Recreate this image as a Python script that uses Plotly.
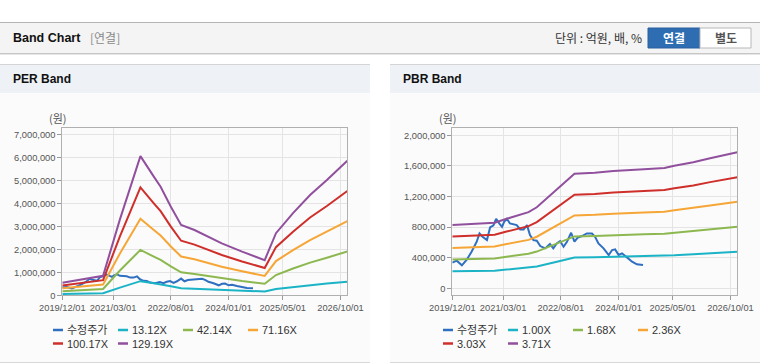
import plotly.graph_objects as go

# ---------------- data ----------------
price_dates = ["2019-12-01","2020-01-10","2020-02-25","2020-04-07","2020-05-22","2020-07-07","2020-08-01","2020-08-28",
               "2020-10-07","2020-11-04","2020-12-04","2020-12-28","2021-01-25","2021-02-19","2021-03-10","2021-04-04",
               "2021-05-01","2021-06-01","2021-07-01","2021-08-01","2021-09-01","2021-10-01","2021-10-28","2021-11-28",
               "2021-12-28","2022-01-28","2022-03-13","2022-04-25","2022-05-25","2022-06-25","2022-07-25","2022-08-25",
               "2022-09-25","2022-11-01","2022-12-01","2023-01-01","2023-02-07","2023-03-22","2023-05-07","2023-06-04",
               "2023-07-04","2023-08-19","2023-10-04","2023-11-04","2023-12-01","2024-01-01","2024-02-01","2024-03-16",
               "2024-05-01","2024-06-13","2024-08-07"]
price = [335000,361000,300000,370000,478000,609000,717000,674000,
         630000,796000,822000,909000,848000,804000,870000,909000,
         848000,839000,826000,770000,770000,826000,696000,630000,
         622000,552000,522000,578000,522000,587000,617000,543000,
         609000,726000,609000,665000,683000,717000,717000,674000,
         587000,522000,435000,500000,509000,435000,457000,404000,
         348000,313000,304000]

per_dates = ["2019-12-01","2020-06-01","2020-12-01","2021-05-01","2021-11-01","2022-03-01","2022-05-01","2022-08-01",
             "2022-11-01","2023-03-01","2023-06-01","2023-11-01","2024-05-01","2024-11-20","2025-03-01","2025-08-01",
             "2026-01-01","2026-06-01","2026-12-01"]
per_13 = [56000,71000,86000,335000,615000,524000,480000,391000,311000,289000,266000,230000,193000,165000,274000,363000,443000,509000,594000]
per_42 = [179000,228000,277000,1076000,1974000,1683000,1540000,1256000,998000,926000,855000,737000,620000,499000,881000,1165000,1422000,1634000,1908000]
per_71 = [303000,386000,468000,1818000,3332000,2842000,2600000,2121000,1685000,1564000,1443000,1245000,1047000,843000,1487000,1966000,2401000,2759000,3222000]
per_100 = [426000,543000,659000,2559000,4691000,4001000,3660000,2985000,2373000,2202000,2032000,1752000,1473000,1186000,2094000,2768000,3381000,3885000,4536000]
per_129 = [550000,700000,850000,3300000,6050000,5160000,4720000,3850000,3060000,2840000,2620000,2260000,1900000,1530000,2700000,3570000,4360000,5010000,5850000]

pbr_dates = ["2019-12-01","2020-06-01","2020-12-15","2021-04-01","2021-10-15","2021-12-28","2022-07-15","2022-12-01",
             "2023-06-01","2023-11-15","2024-08-15","2025-02-15","2025-05-15","2025-11-01","2026-04-01","2026-12-01"]
pbr_100 = [223000,226000,231000,245000,268000,285000,354000,403000,407000,413000,419000,424000,432000,444000,458000,479000]
pbr_168 = [375000,380000,389000,412000,451000,480000,595000,678000,683000,695000,705000,712000,726000,746000,769000,805000]
pbr_236 = [527000,534000,546000,578000,633000,674000,836000,952000,960000,976000,990000,1001000,1020000,1048000,1081000,1131000]
pbr_303 = [676000,686000,701000,742000,813000,865000,1074000,1223000,1232000,1253000,1271000,1285000,1309000,1345000,1388000,1452000]
pbr_371 = [828000,840000,858000,909000,995000,1059000,1315000,1497000,1509000,1534000,1556000,1573000,1603000,1647000,1699000,1778000]

per_names = ["수정주가","13.12X","42.14X","71.16X","100.17X","129.19X"]
pbr_names = ["수정주가","1.00X","1.68X","2.36X","3.03X","3.71X"]
colors = ["#2f6fc1","#1bb3c6","#8cb84f","#f6a636","#cf2f2b","#91509d"]

x_tickvals = ["2019-12-01","2021-03-01","2022-08-01","2024-01-01","2025-05-01","2026-10-01"]
x_ticktext = ["2019/12/01","2021/03/01","2022/08/01","2024/01/01","2025/05/01","2026/10/01"]

# ---------------- figure ----------------
W, H = 760, 364
def X(p): return p / W
def Y(p): return 1 - p / H

fig = go.Figure()

per_series = [(price_dates, price), (per_dates, per_13), (per_dates, per_42),
              (per_dates, per_71), (per_dates, per_100), (per_dates, per_129)]
pbr_series = [(price_dates, price), (pbr_dates, pbr_100), (pbr_dates, pbr_168),
              (pbr_dates, pbr_236), (pbr_dates, pbr_303), (pbr_dates, pbr_371)]

for (xs, ys), name, c in zip(per_series, per_names, colors):
    fig.add_trace(go.Scatter(x=xs, y=ys, name=name, mode="lines", line=dict(color=c, width=2),
                             xaxis="x", yaxis="y", showlegend=False))
for (xs, ys), name, c in zip(pbr_series, pbr_names, colors):
    fig.add_trace(go.Scatter(x=xs, y=ys, name=name, mode="lines", line=dict(color=c, width=2),
                             xaxis="x2", yaxis="y2", showlegend=False))

tickfont = dict(family="Liberation Sans, Arial, sans-serif", size=9.3, color="#555555")
xcommon = dict(type="date", range=["2019-12-01", "2026-12-01"], tickvals=x_tickvals, ticktext=x_ticktext,
               tickangle=0, automargin=False, showgrid=True, gridcolor="#e4e4e4", gridwidth=1,
               showline=True, linecolor="#b0b0b0", linewidth=1, mirror=True, ticks="outside", ticklen=4,
               tickcolor="#999999", tickfont=tickfont, zeroline=False, fixedrange=True)
ycommon = dict(automargin=False, showgrid=True, gridcolor="#e4e4e4", gridwidth=1, showline=True,
               linecolor="#b0b0b0", linewidth=1, mirror=True, ticks="outside", ticklen=4, tickcolor="#999999",
               tickfont=tickfont, tickformat=",d", zeroline=False, fixedrange=True)

ydom = [Y(295.3), Y(128.3)]
fig.update_layout(
    width=W, height=H, autosize=False,
    margin=dict(l=0, r=0, t=0, b=0, pad=0, autoexpand=False),
    paper_bgcolor="#ffffff", plot_bgcolor="#ffffff",
    xaxis=dict(domain=[X(62.3), X(347.3)], anchor="y", **xcommon),
    yaxis=dict(domain=ydom, anchor="x", range=[0, 7261000], tick0=0, dtick=1000000, **ycommon),
    xaxis2=dict(domain=[X(452.3), X(737.3)], anchor="y2", **xcommon),
    yaxis2=dict(domain=ydom, anchor="x2", range=[-91500, 2091500], tick0=0, dtick=400000, **ycommon),
    showlegend=False,
)

shapes = []
ann = []
def rect(x0, y0, x1, y1, fill, line=None, lw=0):
    shapes.append(dict(type="rect", xref="paper", yref="paper", x0=X(x0), x1=X(x1), y0=Y(y1), y1=Y(y0),
                       fillcolor=fill, line=dict(color=line or fill, width=lw), layer="below"))
def hline(x0, x1, y, color, w=1):
    shapes.append(dict(type="line", xref="paper", yref="paper", x0=X(x0), x1=X(x1), y0=Y(y), y1=Y(y),
                       line=dict(color=color, width=w), layer="below"))
def text(x, y, s, size=12, color="#333", xanchor="left", family="Noto Sans CJK KR, Liberation Sans, sans-serif"):
    ann.append(dict(xref="paper", yref="paper", x=X(x), y=Y(y), text=s, showarrow=False,
                    xanchor=xanchor, yanchor="middle", font=dict(size=size, color=color, family=family)))

# header bar
rect(0, 22, 760, 53, "#f4f4f4")
hline(0, 760, 22.5, "#b4b4b4")
hline(0, 760, 53.5, "#c6c6c6")
hline(0, 760, 54.5, "#e6e6e6")
text(11, 38, "<b>Band Chart</b>", size=12.5, color="#111111", family="Liberation Sans, Arial, sans-serif")
text(88, 38, "[연결]", size=12, color="#8a8a8a")
text(553, 38, "단위 : 억원, 배, %", size=12, color="#333333")
# buttons
shapes.append(dict(type="rect", xref="paper", yref="paper", x0=X(648), x1=X(700), y0=Y(48), y1=Y(28),
                   fillcolor="#2f6db3", line=dict(color="#2a5f9e", width=1), layer="above"))
shapes.append(dict(type="rect", xref="paper", yref="paper", x0=X(700), x1=X(751), y0=Y(48), y1=Y(28),
                   fillcolor="#ffffff", line=dict(color="#b8b8b8", width=1), layer="above"))
text(674, 38, "<b>연결</b>", size=12, color="#ffffff", xanchor="center")
text(725.5, 38, "<b>별도</b>", size=12, color="#555555", xanchor="center")

# panels
for px0, px1, title in [(0, 370, "PER Band"), (390, 760, "PBR Band")]:
    rect(px0, 93, px1, 362, "#fbfbfb")
    rect(px0, 64, px1, 93, "#eef2f7")
    hline(px0, px1, 64.5, "#d4d4d4")
    hline(px0, px1, 362.5, "#d8d8d8")
    text(px0 + 11, 79, "<b>" + title + "</b>", size=12, color="#111111", family="Liberation Sans, Arial, sans-serif")

# y-axis unit labels
text(57.5, 118, "(원)", size=11, color="#555555", xanchor="center")
text(447.5, 118, "(원)", size=11, color="#555555", xanchor="center")

# legends
for off, names in [(0, per_names), (390, pbr_names)]:
    for i, (nm, c) in enumerate(zip(names, colors)):
        col, row = i % 4, i // 4
        lx = off + 53 + 65 * col
        ly = 330 + 13.5 * row
        shapes.append(dict(type="line", xref="paper", yref="paper", x0=X(lx), x1=X(lx + 10), y0=Y(ly), y1=Y(ly),
                           line=dict(color=c, width=2.5), layer="above"))
        text(lx + 11.5, ly, nm, size=11, color="#333333",
             family="Liberation Sans, Arial, Noto Sans CJK KR, sans-serif")

fig.update_layout(shapes=shapes, annotations=ann)
fig.write_html("out.html", config={"responsive": False, "displayModeBar": False},
               post_script="document.body.style.margin='0';document.body.style.padding='0';"
                           "document.body.style.overflow='hidden';")
